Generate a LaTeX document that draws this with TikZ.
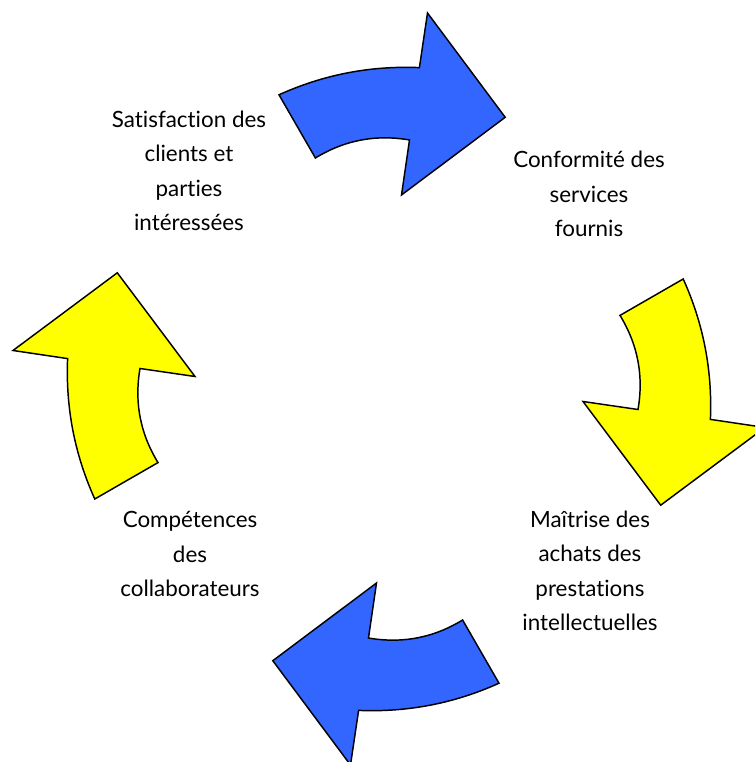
\documentclass[tikz,border=0pt]{standalone}
\usepackage{fontspec}
\setmainfont{Lato}[Ligatures=NoCommon]
\definecolor{arrowblue}{HTML}{3366FF}
\definecolor{arrowyellow}{HTML}{FFFF00}
\tikzset{%
    bigarrow/.style={draw=black,line width=1.1pt,line join=miter},
    stage/.style={align=center,font=\fontsize{16.8}{25.9}\selectfont},
}

\begin{document}
\begin{tikzpicture}[x=0.75pt,y=-0.75pt]
    \useasboundingbox (-389,-389) rectangle (366,373);
    \clip (-389,-389) rectangle (366,373);
    % four curved arrows, one turned a quarter each time
    \foreach \ang/\col in {0/arrowblue,-90/arrowyellow,-180/arrowblue,-270/arrowyellow}{
        \begin{scope}[rotate=\ang]
            \path[bigarrow,fill=\col] (-110,-294.2)
                .. controls (-65.4,-314.4) and (-18.6,-323.4) .. (30.4,-321.4)
                -- (38.5,-376) -- (116.2,-271.7) -- (12.5,-194) -- (20.5,-249)
                .. controls (-13.2,-254.8) and (-44.5,-248.8) .. (-73.6,-231)
                -- cycle;
        \end{scope}
    }
    \node [stage] (sat) at (-200,-218) {Satisfaction des\\clients et\\parties\\intéressées};
    \node [stage] (conf) at (200,-195) {Conformité des\\services\\fournis};
    \node [stage] (maitr) at (201,182) {Maîtrise des\\achats des\\prestations\\intellectuelles};
    \node [stage] (comp) at (-199,165) {Compétences\\des\\collaborateurs};
\end{tikzpicture}
\end{document}
